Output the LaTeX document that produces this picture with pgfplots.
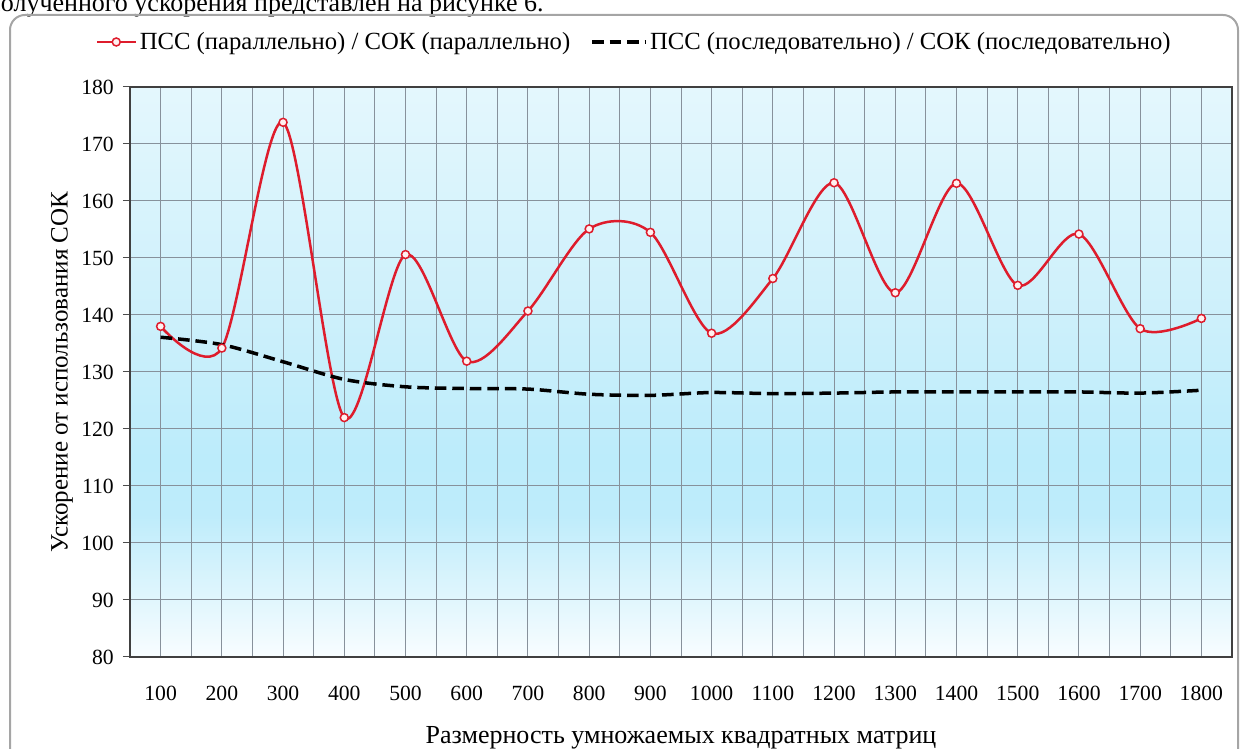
\documentclass[border=0pt]{standalone}
\usepackage{pgfplots}
\pgfplotsset{compat=1.18}
\usepackage{fontspec}
\setmainfont{Liberation Serif}
\newfontfamily\lserif{Liberation Serif}
\definecolor{redline}{RGB}{222,28,44}
\definecolor{gridc}{RGB}{135,145,155}
\definecolor{framec}{RGB}{165,165,165}
\definecolor{bgA}{RGB}{248,253,255}
\definecolor{bgB}{RGB}{225,246,253}
\definecolor{bgC}{RGB}{190,236,251}
\definecolor{bgD}{RGB}{188,236,251}
\definecolor{bgE}{RGB}{205,240,251}
\definecolor{bgF}{RGB}{228,247,253}
\pgfdeclareverticalshading{plotbg}{100bp}{%
  color(0bp)=(bgA); color(25bp)=(bgA); color(30bp)=(bgB); color(37.5bp)=(bgC);
  color(42.5bp)=(bgD); color(55bp)=(bgE); color(75bp)=(bgF); color(100bp)=(bgF)}
\pgfplotsset{
  redleg/.style={legend image code/.code={\draw[mark repeat=2,mark phase=2,##1] plot coordinates {(0pt,0pt) (11.4pt,0pt) (22.8pt,0pt)};}},
  blackleg/.style={legend image code/.code={\draw[##1] (0pt,0pt) -- (31.8pt,0pt);}},
}
\begin{document}
\begin{tikzpicture}
\useasboundingbox (0pt,0pt) rectangle (745.2pt,449.4pt);
\begin{scope}
\clip (0pt,0pt) rectangle (745.2pt,449.4pt);
\node[anchor=base west, inner sep=0, font=\lserif\fontsize{15.6}{18}\selectfont] at (-8pt,442.2pt) {полученного ускорения представлен на рисунке 6.};
\draw[framec, line width=1.2pt, rounded corners=9pt] (6pt,-10pt) -- (6pt,440.4pt) -- (742.8pt,440.4pt) -- (742.8pt,-10pt);
\end{scope}
\begin{axis}[
  at={(78pt,55.2pt)}, anchor=south west, scale only axis,
  width=661.2pt, height=342pt,
  xmin=50, xmax=1850, ymin=80, ymax=180,
  xtick={100,200,...,1800},
  minor xtick={150,250,...,1750},
  ytick={80,90,...,180},
  grid=both,
  major grid style={gridc, line width=0.6pt},
  minor grid style={gridc, line width=0.6pt},
  axis line style={draw=black!75, line width=0.9pt},
  axis background/.style={shading=plotbg},
  tick align=outside,
  major tick length=4.2pt,
  minor tick length=0pt,
  xtick style={draw=none},
  ytick style={black!70, line width=0.6pt},
  ytick pos=left, xtick pos=bottom,
  /pgf/number format/assume math mode=true,
  /pgf/number format/1000 sep={},
  tick label style={font=\lserif\fontsize{13}{15}\selectfont},
  xticklabel style={yshift=-10pt},
  yticklabel style={xshift=-2pt},
  xlabel={Размерность умножаемых квадратных матриц},
  ylabel={Ускорение от использования СОК},
  every axis x label/.style={at={(axis description cs:0.5,0)}, anchor=center, yshift=-48.6pt, font=\lserif\fontsize{15.6}{18}\selectfont},
  every axis y label/.style={at={(axis description cs:0,0.5)}, anchor=center, xshift=-40.8pt, rotate=90, font=\lserif\fontsize{15}{18}\selectfont},
  legend columns=2,
  legend style={at={(axis description cs:0.5,1)}, anchor=center, xshift=-27.6pt, yshift=27pt,
    draw=none, fill=none, font=\lserif\fontsize{14.8}{18}\selectfont,
    /tikz/every even column/.append style={column sep=10pt}},
]
\addplot[redline, line width=1.5pt, smooth, tension=0.5, mark=*, mark size=2.4pt,
  mark options={fill={rgb,255:red,255;green,240;blue,240}, draw=redline, line width=0.9pt, solid}, redleg]
coordinates {
(100,138.0) (200,134.2) (300,173.8) (400,122.0) (500,150.6) (600,131.9)
(700,140.7) (800,155.1) (900,154.5) (1000,136.8) (1100,146.4) (1200,163.2)
(1300,143.9) (1400,163.1) (1500,145.2) (1600,154.2) (1700,137.6) (1800,139.4)};
\addlegendentry{ПСС (параллельно) / СОК (параллельно)}
\addplot[black, line width=2.1pt, dash pattern=on 7pt off 3.5pt, smooth, tension=0.5, no marks, blackleg]
coordinates {
(100,136.1) (200,134.8) (300,131.8) (400,128.7) (500,127.4) (600,127.1)
(700,127.0) (800,126.1) (900,125.9) (1000,126.4) (1100,126.2) (1200,126.3)
(1300,126.5) (1400,126.5) (1500,126.5) (1600,126.5) (1700,126.3) (1800,126.8)};
\addlegendentry{ПСС (последовательно) / СОК (последовательно)}
\end{axis}
\end{tikzpicture}
\end{document}
